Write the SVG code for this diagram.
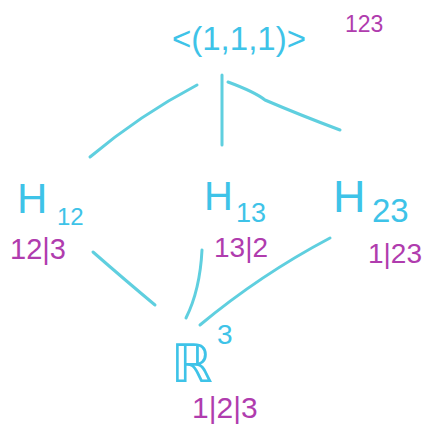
<svg xmlns="http://www.w3.org/2000/svg" width="423" height="426" viewBox="0 0 423 426">
<style>
.c{fill:#3ec3e8;font-family:"Liberation Sans","DejaVu Sans",sans-serif}
.m{fill:#b03cae;font-family:"Liberation Sans","DejaVu Sans",sans-serif}
.e{fill:none;stroke:#5fcfdf;stroke-width:3;stroke-linecap:round}
</style>
<rect width="423" height="426" fill="#ffffff"/>
<g id="connectors">
<path class="e" d="M197,85 Q140,115 90,157"/>
<path class="e" d="M222,75 L222,145"/>
<path class="e" d="M228,82 Q255,92 265,100 Q300,115 340,130"/>
<path class="e" d="M93,252 Q125,280 155,305"/>
<path class="e" d="M202,250 Q200,290 186,318"/>
<path class="e" d="M330,238 Q260,275 200,325"/>
</g>
<g id="top">
<text class="c" x="172" y="50" font-size="33">&lt;(1,1,1)&gt;</text>
<text class="m" x="345" y="32" font-size="23">123</text>
</g>
<g id="H12">
<text class="c" x="17" y="213" font-size="42">H</text>
<text class="c" x="57" y="225" font-size="24">12</text>
<text class="m" x="10" y="259" font-size="29">12|3</text>
</g>
<g id="H13">
<text class="c" x="204" y="210" font-size="40">H</text>
<text class="c" x="236" y="222" font-size="27">13</text>
<text class="m" x="214" y="257" font-size="28">13|2</text>
</g>
<g id="H23">
<text class="c" x="333" y="212" font-size="45">H</text>
<text class="c" x="372" y="222" font-size="33">23</text>
<text class="m" x="368" y="263" font-size="28">1|23</text>
</g>
<g id="R3">
<text class="c" x="171" y="382" font-size="53" style="font-family:'DejaVu Sans',sans-serif">ℝ</text>
<text class="c" x="217" y="344" font-size="28">3</text>
<text class="m" x="192" y="418" font-size="30">1|2|3</text>
</g>
</svg>
